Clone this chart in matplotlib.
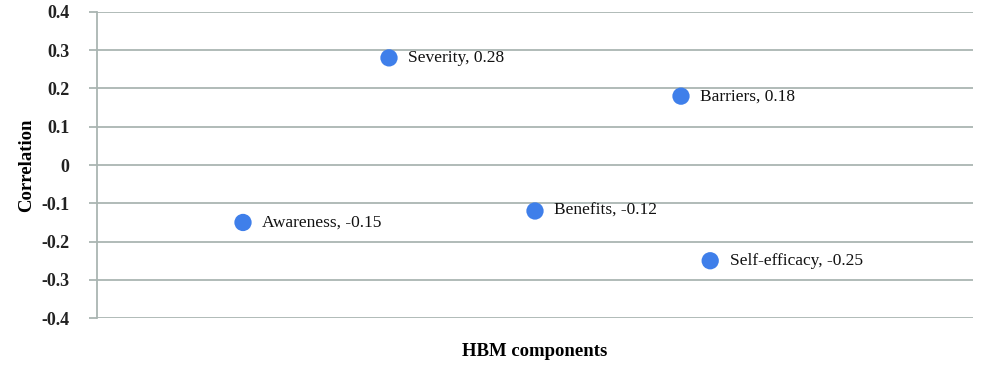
import numpy as np
import matplotlib.pyplot as plt

components = ['Awareness', 'Severity', 'Benefits', 'Barriers', 'Self-efficacy']
x_pos = [1, 2, 3, 4, 4.2]
corr = [-0.15, 0.28, -0.12, 0.18, -0.25]
yticks = [-0.4, -0.3, -0.2, -0.1, 0, 0.1, 0.2, 0.3, 0.4]
ytick_labels = ['-0.4', '-0.3', '-0.2', '-0.1', '0', '0.1', '0.2', '0.3', '0.4']

plt.rcParams['font.family'] = ['Liberation Serif', 'DejaVu Serif']
grid_col = '#aab5b2'

fig = plt.figure(figsize=(10, 3.73), dpi=100)
ax = fig.add_axes([0.097, 0.147, 0.876, 0.821])

for yv in yticks:
    ax.axhline(yv, color=grid_col, linewidth=1.3, zorder=1)

ax.scatter(x_pos, corr, s=155, color='#3f7fea', zorder=3, edgecolors='none')
for xv, yv, name in zip(x_pos, corr, components):
    ax.annotate(f'{name}, {yv:g}', (xv, yv), xytext=(14, 0), textcoords='offset points',
                va='center', ha='left', fontsize=12.5, color='#111111')

ax.set_xlim(0, 6)
ax.set_ylim(-0.4, 0.4)
ax.set_yticks(yticks)
ax.set_yticklabels(ytick_labels, fontsize=13, fontweight='semibold', color='#222222')
ax.set_xticks([])
ax.tick_params(axis='y', length=6, width=1.3, color=grid_col, pad=14)

for s in ['top', 'right', 'bottom']:
    ax.spines[s].set_visible(False)
ax.spines['left'].set_color(grid_col)
ax.spines['left'].set_linewidth(1.3)

ax.set_ylabel('Correlation', fontsize=13.5, fontweight='bold', labelpad=4)
ax.set_xlabel('HBM components', fontsize=13.5, fontweight='bold', labelpad=18)

fig.savefig('out.png', dpi=100)
